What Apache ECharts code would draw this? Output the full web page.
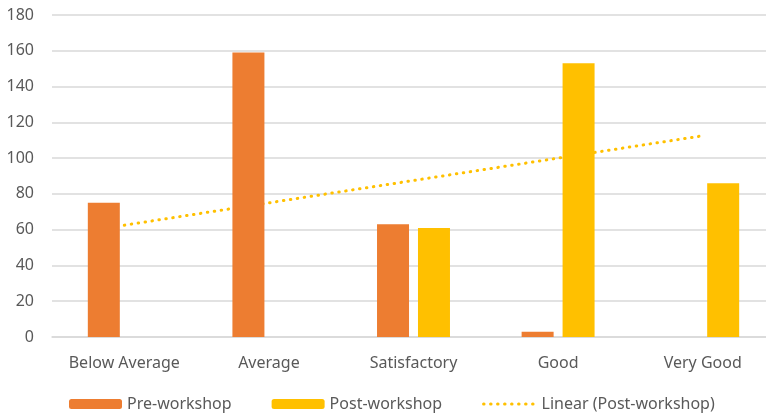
<!DOCTYPE html>
<html>
<head>
<meta charset="utf-8">
<script src="https://cdn.jsdelivr.net/npm/echarts@6/dist/echarts.min.js"></script>
<style>
  html, body { margin: 0; padding: 0; background: #fff; }
  #chart { width: 766px; height: 417px; }
</style>
</head>
<body>
<div id="chart"></div>
<script>
  // data
  const categories = ['Below Average', 'Average', 'Satisfactory', 'Good', 'Very Good'];
  const preWorkshop = [75, 159, 63, 3, 0];
  const postWorkshop = [0, 0, 61, 153, 86];
  // trend line (Linear (Post-workshop)) as read at each category centre
  const postTrend = [62.5, 75, 87.5, 100, 112.5];
  const yTicks = [0, 20, 40, 60, 80, 100, 120, 140, 160, 180];

  const font = '"Noto Sans", "Open Sans", sans-serif';
  const grey = '#595959';
  const trendLine = {
    color: '#FFC000',
    width: 3,
    type: [0.5, 6.5],
    cap: 'round'
  };

  let myChart = echarts.init(document.getElementById('chart'));
  myChart.setOption({
    animation: false,
    textStyle: { fontFamily: font },
    grid: {
      left: 52,
      top: 15,
      width: 723,
      height: 322,
      outerBoundsMode: 'none'
    },
    legend: {
      left: 69,
      top: 396,
      padding: 0,
      itemWidth: 53,
      itemHeight: 10,
      itemGap: 40,
      textStyle: { color: grey, fontSize: 16, fontFamily: font },
      data: [
        'Pre-workshop',
        'Post-workshop',
        {
          name: 'Linear (Post-workshop)',
          itemStyle: { opacity: 0 },
          lineStyle: trendLine
        }
      ]
    },
    xAxis: {
      type: 'category',
      data: categories,
      axisTick: { show: false },
      axisLine: { lineStyle: { color: '#D9D9D9', width: 1.5 } },
      axisLabel: { color: grey, fontSize: 16, margin: 18, interval: 0 }
    },
    yAxis: {
      type: 'value',
      min: yTicks[0],
      max: yTicks[yTicks.length - 1],
      interval: 20,
      axisLine: { show: false },
      axisTick: { show: false },
      axisLabel: { color: grey, fontSize: 16, margin: 18 },
      splitLine: { lineStyle: { color: '#D9D9D9', width: 1.5 } }
    },
    series: [
      {
        name: 'Pre-workshop',
        type: 'bar',
        data: preWorkshop,
        barWidth: 32,
        barGap: '28%',
        z: 3,
        itemStyle: { color: '#ED7D31' }
      },
      {
        name: 'Post-workshop',
        type: 'bar',
        data: postWorkshop,
        barWidth: 32,
        z: 3,
        itemStyle: { color: '#FFC000' }
      },
      {
        name: 'Linear (Post-workshop)',
        type: 'line',
        data: postTrend,
        symbol: 'none',
        z: 1,
        itemStyle: { color: '#FFC000' },
        lineStyle: trendLine
      }
    ]
  });
</script>
</body>
</html>
